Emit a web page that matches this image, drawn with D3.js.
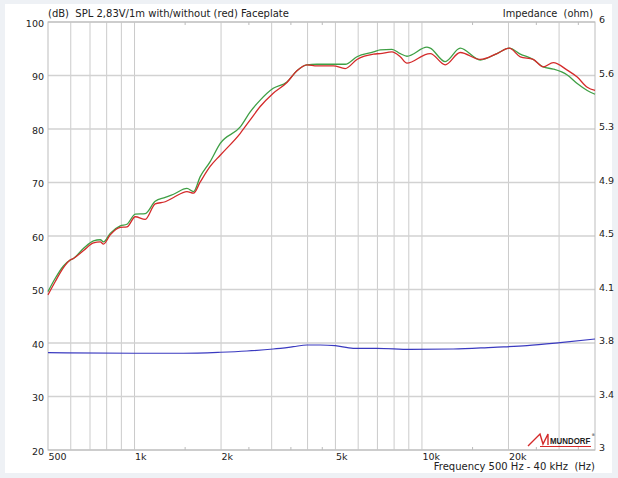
<!DOCTYPE html>
<html><head><meta charset="utf-8">
<script src="https://cdn.jsdelivr.net/npm/d3@7"></script>
<style>
html,body{margin:0;padding:0;background:#eef1f5;}
svg{display:block;}
text{font-family:"DejaVu Sans",Verdana,sans-serif;font-size:9.5px;fill:#222;white-space:pre;}
</style></head><body>
<svg id="c" width="618" height="478"></svg>
<script>
// ---- data ----
const freq = [500,530,566,597,613,665,720,760,780,823,892,941,1006,1090,1180,1279,1367,1522,1604,1693,1833,1987,2333,2526,2737,3038,3390,3673,3979,4311,4925,5408,5941,6786,7160,7864,8404,8868,10410,10690,12050,13590,15950,18240,20120,21980,24390,26420,28630,32030,34690,37590,40000];
const splGreen = [49.6,52.1,54.4,55.5,55.8,57.7,59.1,59.3,58.9,60.5,61.9,62.2,64.1,64.2,66.5,67.2,67.8,68.9,68.3,71.1,73.9,77.3,80.4,83.2,85.4,87.6,88.8,90.9,92.0,92.1,92.1,92.1,93.5,94.4,94.8,94.9,94.1,93.6,95.3,95.1,92.6,95.1,92.9,94.1,95.1,94.0,93.0,91.6,91.2,90.1,88.5,87.2,86.5];
const splRed = [49.0,51.5,54.1,55.5,55.8,57.3,58.7,58.9,58.5,60.2,61.6,61.7,63.6,63.1,66.0,66.4,67.2,68.3,68.0,70.1,73.0,75.1,79.2,81.7,84.2,86.7,88.7,90.9,92.0,91.8,91.8,91.3,93.0,94.0,94.1,94.4,93.5,92.3,94.0,94.1,92.0,94.3,93.0,94.1,95.1,93.5,93.0,91.6,92.4,91.0,89.7,87.8,87.2];
const impFreq = [500,1000,1477,1986,2460,3038,3565,3980,4426,4992,5765,6970,9100,12850,17700,23200,30250,40000];
const impOhm = [3.682,3.678,3.678,3.685,3.694,3.708,3.724,3.736,3.736,3.731,3.713,3.713,3.706,3.708,3.720,3.731,3.752,3.778];

const dbTicks = [20,30,40,50,60,70,80,90,100];
const ohmTicks = [3,3.375,3.75,4.125,4.5,4.875,5.25,5.625,6];
const ohmLabels = ["3","3.4","3.8","4.1","4.5","4.9","5.3","5.6","6"];
const freqLabelTicks = [500,1000,2000,5000,10000,20000];
const freqLabels = ["500","1k","2k","5k","10k","20k"];
const freqGrid = [600,700,800,900,1000,2000,3000,4000,5000,6000,7000,8000,9000,10000,20000,30000];
const freqMinor = [1500,2500,3500,4500,15000,25000,35000];

// ---- layout ----
const svg = d3.select("#c");
const L = 48, R = 595, T = 22, B = 450;
const x = d3.scaleLog().domain([500,40000]).range([L,R]);
const yL = d3.scaleLinear().domain([20,100]).range([B,T]);
const yR = d3.scaleLinear().domain([3,6]).range([B,T]);

svg.append("rect").attr("x",5).attr("y",4).attr("width",607).attr("height",469).attr("fill","#fff");

// grid
const g = svg.append("g");
g.selectAll(".vg").data(freqGrid).join("line")
  .attr("x1",d=>x(d)).attr("x2",d=>x(d)).attr("y1",T).attr("y2",B)
  .attr("stroke","#cbcbcb").attr("stroke-width",1);
g.selectAll(".hg").data(dbTicks).join("line")
  .attr("x1",L).attr("x2",R).attr("y1",d=>yL(d)).attr("y2",d=>yL(d))
  .attr("stroke","#d2d2d2").attr("stroke-width",1.5);
g.selectAll(".mt").data(freqMinor).join("line")
  .attr("x1",d=>x(d)).attr("x2",d=>x(d)).attr("y1",T).attr("y2",T+3)
  .attr("stroke","#bbb");
g.selectAll(".mb").data(freqMinor).join("line")
  .attr("x1",d=>x(d)).attr("x2",d=>x(d)).attr("y1",B-3).attr("y2",B)
  .attr("stroke","#bbb");
svg.append("rect").attr("x",L).attr("y",T).attr("width",R-L).attr("height",B-T)
  .attr("fill","none").attr("stroke","#bdbdbd").attr("stroke-width",1);

// axes (labels only)
const ax = svg.append("g").attr("transform",`translate(${L},0)`)
  .call(d3.axisLeft(yL).tickValues(dbTicks).tickSize(0).tickPadding(4).tickFormat(d3.format("d")));
ax.select(".domain").remove();
ax.selectAll("text").attr("dy","0.45em");
const axr = svg.append("g").attr("transform",`translate(${R},0)`)
  .call(d3.axisRight(yR).tickValues(ohmTicks).tickSize(0).tickPadding(4).tickFormat((d,i)=>ohmLabels[i]));
axr.select(".domain").remove();
axr.selectAll("text").attr("dy","0.1em");
const axb = svg.append("g").attr("transform",`translate(0,${B})`)
  .call(d3.axisBottom(x).tickValues(freqLabelTicks).tickSize(0).tickPadding(3).tickFormat((d,i)=>freqLabels[i]));
axb.select(".domain").remove();
axb.selectAll("text").attr("text-anchor","start").attr("dx","0");
svg.selectAll(".tick text").style("font-family","DejaVu Sans").style("font-size","9.5px").attr("fill","#222");

// titles
svg.append("text").attr("x",L).attr("y",T-5).style("font-size","10px").text("(dB)  SPL 2,83V/1m with/without (red) Faceplate");
svg.append("text").attr("x",R-2).attr("y",T-5).attr("text-anchor","end").style("font-size","9.8px").text("Impedance  (ohm)");
svg.append("text").attr("x",R).attr("y",B+20).attr("text-anchor","end").style("font-size","10px").text("Frequency 500 Hz - 40 kHz  (Hz)");

// curves
const line = (xs,ys,sc) => d3.line().x((d,i)=>x(xs[i])).y((d,i)=>sc(ys[i])).curve(d3.curveMonotoneX)(ys);
svg.append("path").attr("d",line(freq,splGreen,yL)).attr("fill","none").attr("stroke","#3f9f45").attr("stroke-width",1.3);
svg.append("path").attr("d",line(freq,splRed,yL)).attr("fill","none").attr("stroke","#d42a2a").attr("stroke-width",1.3);
svg.append("path").attr("d",line(impFreq,impOhm,yR)).attr("fill","none").attr("stroke","#3a3ac0").attr("stroke-width",1.2);

// logo
const lg = svg.append("g").attr("transform",`translate(${R-67},${B-17})`);
lg.append("path").attr("d","M0,13 L12,1 L15,11 L20,1 L20,12").attr("fill","none").attr("stroke","#d42a2a").attr("stroke-width",1.4);
lg.append("text").attr("transform","translate(22,11) scale(1,1.25)")
  .style("font-family","Liberation Sans").style("font-weight","bold").style("font-size","7.9px").attr("fill","#d42a2a").text("MUNDORF");
lg.append("line").attr("x1",12).attr("x2",63).attr("y1",13.5).attr("y2",13.5).attr("stroke","#d42a2a").attr("stroke-width",1);
lg.append("text").attr("x",63.5).attr("y",3).style("font-size","3.5px").attr("fill","#d42a2a").text("®");
</script></body></html>
